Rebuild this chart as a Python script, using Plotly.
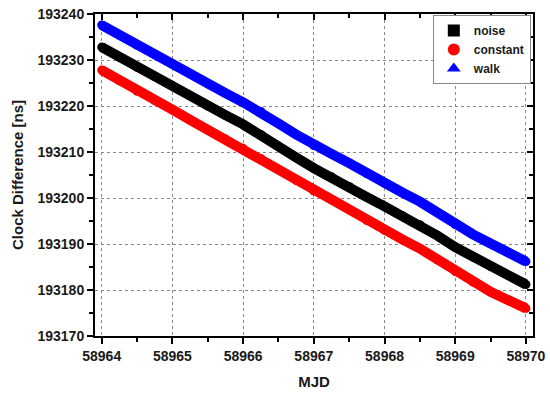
import plotly.graph_objects as go

mjd = [58964.00, 58964.25, 58964.50, 58964.75, 58965.00, 58965.25, 58965.50, 58965.75,
       58966.00, 58966.25, 58966.50, 58966.75, 58967.00, 58967.25, 58967.50, 58967.75,
       58968.00, 58968.25, 58968.50, 58968.75, 58969.00, 58969.25, 58969.50, 58969.75,
       58970.00]

noise = [193232.8, 193230.6, 193228.4, 193226.4, 193224.4, 193222.2, 193220.0, 193218.0,
         193216.0, 193213.8, 193211.2, 193208.8, 193206.5, 193204.6, 193202.5, 193200.2,
         193198.2, 193196.2, 193194.2, 193191.8, 193189.3, 193187.2, 193185.1, 193183.2,
         193181.2]

constant = [193227.8, 193225.5, 193223.2, 193221.2, 193219.2, 193217.0, 193214.8, 193212.8,
            193210.8, 193208.6, 193206.1, 193203.8, 193201.5, 193199.6, 193197.5, 193195.1,
            193193.0, 193191.0, 193189.0, 193186.5, 193184.0, 193181.7, 193179.6, 193177.8,
            193176.0]

walk = [193237.6, 193235.4, 193233.2, 193231.2, 193229.2, 193227.0, 193224.8, 193222.8,
        193220.8, 193218.8, 193216.2, 193213.8, 193211.4, 193209.6, 193207.6, 193205.3,
        193203.2, 193201.2, 193199.2, 193196.8, 193194.2, 193192.1, 193190.1, 193188.2,
        193186.2]

x_ticks = [58964, 58965, 58966, 58967, 58968, 58969, 58970]
y_ticks = [193170, 193180, 193190, 193200, 193210, 193220, 193230, 193240]

series = [
    ("noise", noise, "#000000", "square", 7),
    ("constant", constant, "#FF0000", "circle", 9),
    ("walk", walk, "#0000FF", "triangle-up", 9),
]

FONT = "Liberation Sans, Arial, sans-serif"
XR = [58963.905, 58970.1]
YR = [193170, 193240]

fig = go.Figure()
for name, vals, col, sym, ms in series:
    fig.add_trace(go.Scatter(
        x=mjd, y=vals, mode="lines+markers",
        line=dict(color=col, width=10),
        marker=dict(color=col, size=9, symbol="circle"),
        showlegend=False, hoverinfo="skip"))
for name, vals, col, sym, ms in series:
    fig.add_trace(go.Scatter(
        x=[None], y=[None], mode="markers", name=name,
        marker=dict(color=col, size=ms, symbol=sym)))

axis_common = dict(
    showline=True, linecolor="black", linewidth=2, automargin=False,
    ticks="outside", ticklen=6, tickwidth=1.5, tickcolor="black",
    tickfont=dict(family=FONT, size=14, color="#1a1a1a", weight="bold"),
    showgrid=True, gridcolor="#888888", griddash="dot", gridwidth=1,
    zeroline=False,
)

fig.update_layout(
    width=550, height=393,
    margin=dict(l=95, r=17, t=14, b=57),
    paper_bgcolor="white", plot_bgcolor="white",
    xaxis=dict(
        range=XR,
        tickvals=x_ticks, ticktext=[str(v) for v in x_ticks],
        minor=dict(ticks="outside", ticklen=4, tickcolor="black", tickwidth=1.5,
                   dtick=0.5, tick0=58964, showgrid=False),
        title=dict(text="MJD", font=dict(family=FONT, size=15, color="#1a1a1a", weight="bold"),
                   standoff=14),
        **axis_common),
    yaxis=dict(
        range=YR,
        tickvals=y_ticks, ticktext=[str(v) for v in y_ticks],
        minor=dict(ticks="outside", ticklen=4, tickcolor="black", tickwidth=1.5,
                   dtick=5, tick0=193170, showgrid=False),
        title=dict(text="Clock Difference [ns]",
                   font=dict(family=FONT, size=15, color="#1a1a1a", weight="bold"),
                   standoff=10),
        **axis_common),
    xaxis2=dict(
        overlaying="x", side="top", matches="x", showline=True, linecolor="black",
        linewidth=2, ticks="inside", ticklen=6, tickwidth=1.5, tickcolor="black",
        tickvals=x_ticks, showticklabels=False, showgrid=False, zeroline=False,
        automargin=False,
        minor=dict(ticks="inside", ticklen=4, tickcolor="black", dtick=0.5, tick0=58964),
        range=XR),
    yaxis2=dict(
        overlaying="y", side="right", matches="y", showline=True, linecolor="black",
        linewidth=2, ticks="inside", ticklen=6, tickwidth=1.5, tickcolor="black",
        tickvals=y_ticks, showticklabels=False, showgrid=False, zeroline=False,
        automargin=False,
        minor=dict(ticks="inside", ticklen=4, tickcolor="black", dtick=5, tick0=193170),
        range=YR),
    legend=dict(
        x=0.995, y=0.997, xanchor="right", yanchor="top",
        bgcolor="white", bordercolor="#888888", borderwidth=1,
        font=dict(family=FONT, size=12, color="#1a1a1a", weight="bold"),
        tracegroupgap=0, itemsizing="constant"),
)

# invisible trace to activate the mirrored axes
fig.add_trace(go.Scatter(x=[None], y=[None], xaxis="x2", yaxis="y2",
                         showlegend=False, hoverinfo="skip"))

fig.write_html("out.html", config={"displayModeBar": False},
               post_script="document.body.style.margin='0';document.body.style.overflow='hidden';")
